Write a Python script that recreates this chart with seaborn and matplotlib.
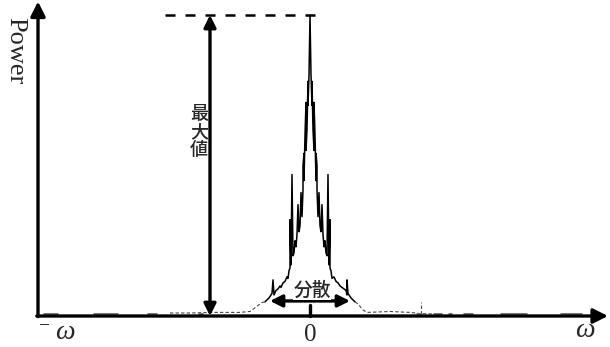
import matplotlib
matplotlib.use("Agg")
import matplotlib.pyplot as plt
import pandas as pd
import seaborn as sns

# frequency bins (0 = centre), power normalised to the maximum
peak_freq = [-45, -41, -38, -37, -36, -34, -32, -30, -29, -27, -25, -23, -22, -21, -20, -20,
             -19, -18, -17, -16, -15, -14, -13, -12, -11, -10, -9, -8, -7, -7, -6, -6, -5, -4,
             -4, -3, -2, -2, -1, 0, 1, 2, 2, 3, 4, 4, 5, 6, 6, 7, 7, 8, 9, 10, 11, 12, 13, 14,
             15, 16, 17, 18, 19, 20, 20, 21, 22, 24, 26, 28, 30, 32, 34, 36, 37, 37, 38, 41, 45]
peak_power = [0.047, 0.06, 0.075, 0.12, 0.07, 0.085, 0.09, 0.10, 0.095, 0.11, 0.115, 0.13, 0.125,
              0.15, 0.16, 0.32, 0.17, 0.47, 0.2, 0.21, 0.25, 0.23, 0.27, 0.37, 0.28, 0.30, 0.41,
              0.33, 0.42, 0.50, 0.54, 0.45, 0.60, 0.71, 0.55, 0.62, 0.78, 0.70, 0.80, 1.0, 0.80,
              0.70, 0.78, 0.62, 0.55, 0.71, 0.60, 0.45, 0.54, 0.50, 0.42, 0.33, 0.41, 0.30, 0.28,
              0.37, 0.27, 0.23, 0.25, 0.21, 0.2, 0.47, 0.17, 0.32, 0.16, 0.15, 0.125, 0.13, 0.115,
              0.11, 0.10, 0.095, 0.09, 0.085, 0.07, 0.12, 0.075, 0.06, 0.047]

noise_left_freq = [-140, -120, -95, -70, -60, -52, -48, -45]
noise_left_power = [0.01, 0.01, 0.012, 0.012, 0.015, 0.035, 0.045, 0.047]
noise_right_freq = [45, 48, 53, 57, 65, 80, 100, 110, 130]
noise_right_power = [0.047, 0.04, 0.02, 0.012, 0.013, 0.015, 0.012, 0.008, 0.006]
side_spike_freq = [111, 111]
side_spike_power = [0.006, 0.047]

block_start = [-267, -217, -163, -112, 106, 123, 138, 153, 190, 250]
block_end = [-252, -192, -153, -107, 112, 132, 142, 163, 217, 272]

sns.set_theme(style="white")
plt.rcParams["font.family"] = ["Liberation Serif", "Noto Sans CJK JP", "DejaVu Sans"]

fig = plt.figure(figsize=(6.1, 3.47), dpi=100)
ax = fig.add_axes([0, 0, 1, 1])
ax.set_xlim(-310, 300)
ax.set_ylim(-0.103, 1.050)
ax.axis("off")

peak = pd.DataFrame({"freq": peak_freq, "power": peak_power})
sns.lineplot(data=peak, x="freq", y="power", sort=False, estimator=None,
             color="black", lw=1.1, ax=ax)
for fx, fy in [(noise_left_freq, noise_left_power),
               (noise_right_freq, noise_right_power),
               (side_spike_freq, side_spike_power)]:
    sns.lineplot(x=fx, y=fy, sort=False, estimator=None, color="#444444",
                 lw=0.8, linestyle=(0, (3, 2)), ax=ax)
ax.hlines([0.008] * len(block_start), block_start, block_end, color="#777777", lw=2.2)

# axes as arrows
ax.annotate("", xy=(-272, 1.045), xytext=(-272, -0.002),
            arrowprops=dict(arrowstyle="-|>", lw=2.4, color="black", mutation_scale=22,
                            shrinkA=0, shrinkB=0))
ax.annotate("", xy=(298, 0), xytext=(-273.2, 0),
            arrowprops=dict(arrowstyle="-|>", lw=2.4, color="black", mutation_scale=22,
                            shrinkA=0, shrinkB=0))

# max value marker
ax.plot([-145, 7], [1.0, 1.0], color="black", lw=1.8, linestyle=(0, (4, 4)))
ax.annotate("", xy=(-100, 1.0), xytext=(-100, 0),
            arrowprops=dict(arrowstyle="<|-|>", lw=2.4, color="black", mutation_scale=18,
                            shrinkA=0, shrinkB=0))
ax.text(-111, 0.61, "最\n大\n値", ha="center", va="center", fontsize=13,
        linespacing=1.0, weight="medium", family=["Noto Sans CJK JP"])

# variance marker
ax.annotate("", xy=(40, 0.05), xytext=(-40, 0.05),
            arrowprops=dict(arrowstyle="<|-|>", lw=2.4, color="black", mutation_scale=18,
                            shrinkA=0, shrinkB=0))
ax.text(2, 0.085, "分散", ha="center", va="center", fontsize=13.5, weight="medium",
        family=["Noto Sans CJK JP"],
        bbox=dict(facecolor="white", edgecolor="none", pad=0.3))
ax.plot([0, 0], [0, 0.037], color="black", lw=2.4)

# labels
ax.text(-295, 0.88, "Power", rotation=-90, ha="center", va="center", fontsize=19)
ax.text(0, -0.063, "0", ha="center", va="center", fontsize=18)
ax.text(275, -0.047, "ω", ha="center", va="center", fontsize=20, style="italic")
ax.text(-266, -0.035, "−", ha="center", va="center", fontsize=14)
ax.text(-245, -0.056, "ω", ha="center", va="center", fontsize=20, style="italic")

fig.savefig("out.png", dpi=100)
